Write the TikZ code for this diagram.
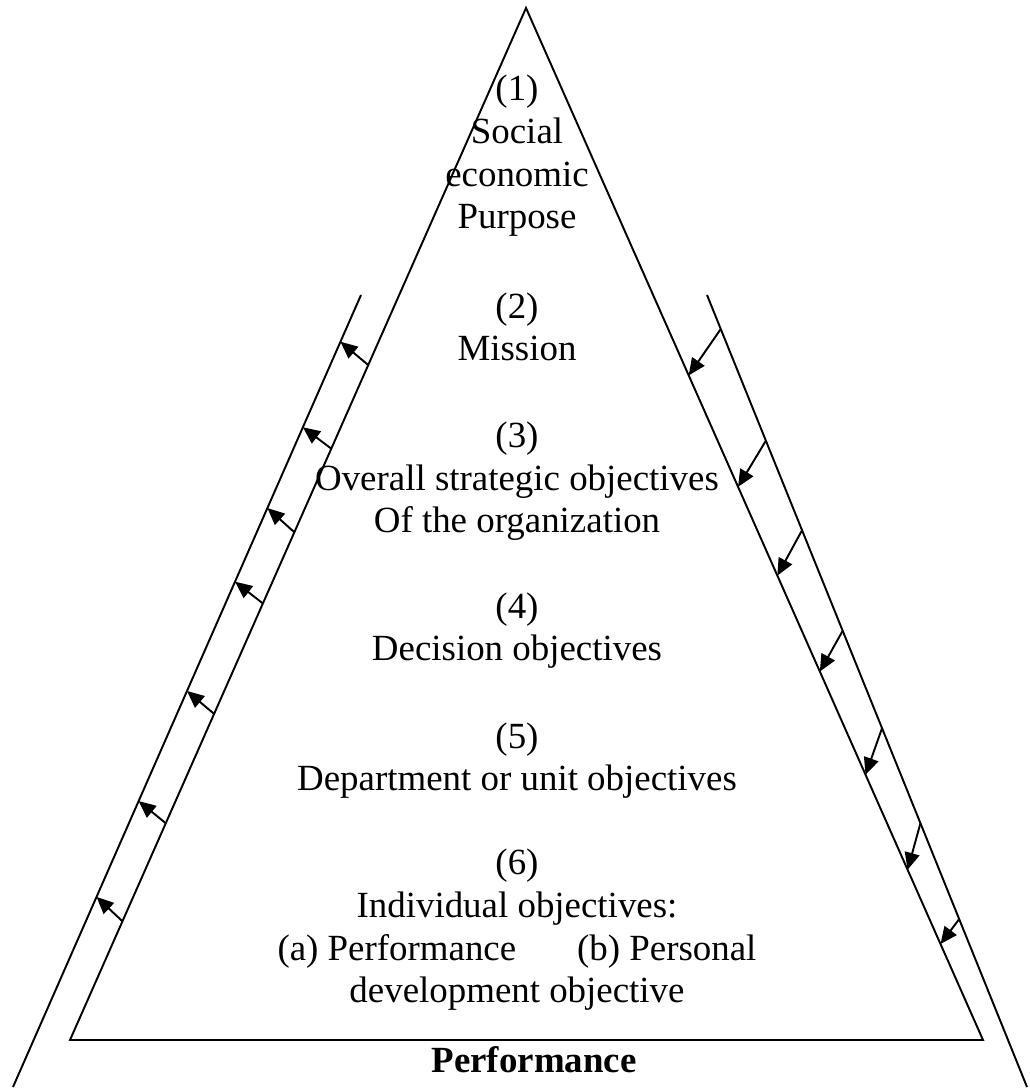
\documentclass[tikz,border=0pt]{standalone}
\usepackage{fontspec}
\setmainfont{Liberation Serif}
\usepackage{tikz}
\usetikzlibrary{arrows.meta,calc}

\begin{document}
\begin{tikzpicture}[
    >={Triangle[length=0.34cm,width=0.3cm]},
    lado/.style={line width=1.1pt, black},
    seta/.style={->, line width=1.1pt, black},
    nivel/.style={align=center, anchor=base, inner sep=0pt, font=\fontsize{21}{24.4}\selectfont},
    rotulo/.style={anchor=base, inner sep=0pt, font=\fontsize{21}{24.4}\selectfont\bfseries}
]
\useasboundingbox (0,0) rectangle (20.58,21.8);
% ---------- piramide ----------
\coordinate (apex) at (10.52,21.64);
\coordinate (bl)   at (1.40,1.00);
\coordinate (br)   at (19.66,1.00);
\draw[lado] (apex) -- (bl) -- (br) -- cycle;
% ---------- linhas externas ----------
\coordinate (lotop) at (7.22,15.90);
\coordinate (lobot) at (0.26,0.06);
\coordinate (rotop) at (14.14,15.90);
\coordinate (robot) at (20.54,0.06);
\draw[lado] (lotop) -- (lobot);
\draw[lado] (rotop) -- (robot);
% ---------- setas: para fora a esquerda ----------
\foreach \n/\a/\b in {1/0.346/0.059, 2/0.427/0.167, 3/0.508/0.269, 4/0.577/0.362,
                      5/0.684/0.500, 6/0.790/0.639, 7/0.885/0.760} {
  \coordinate (lt\n) at ($(apex)!\a!(bl)$);
  \coordinate (lh\n) at ($(lotop)!\b!(lobot)$);
  \draw[seta] (lt\n) -- (lh\n);
}
% ---------- setas: para dentro a direita ----------
\foreach \n/\a/\b in {1/0.043/0.356, 2/0.184/0.464, 3/0.297/0.550, 4/0.424/0.643,
                      5/0.547/0.743, 6/0.667/0.835, 7/0.788/0.907} {
  \coordinate (rt\n) at ($(rotop)!\a!(robot)$);
  \coordinate (rh\n) at ($(apex)!\b!(br)$);
  \draw[seta] (rt\n) -- (rh\n);
}
% ---------- niveis (ancora na ultima linha) ----------
\node[nivel] (n1) at (10.34,17.22) {(1)\\Social\\economic\\Purpose};
\node[nivel] (n2) at (10.34,14.58) {(2)\\Mission};
\node[nivel] (n3) at (10.34,11.14) {(3)\\Overall strategic objectives\\Of the organization};
\node[nivel] (n4) at (10.34,8.58) {(4)\\Decision objectives};
\node[nivel] (n5) at (10.34,5.98) {(5)\\Department or unit objectives};
\node[nivel] (n6) at (10.34,1.74) {(6)\\Individual objectives:\\(a) Performance\hspace{1.4em} (b) Personal\\development objective};
\node[rotulo] (perf) at (10.68,0.34) {Performance};
\end{tikzpicture}
\end{document}
